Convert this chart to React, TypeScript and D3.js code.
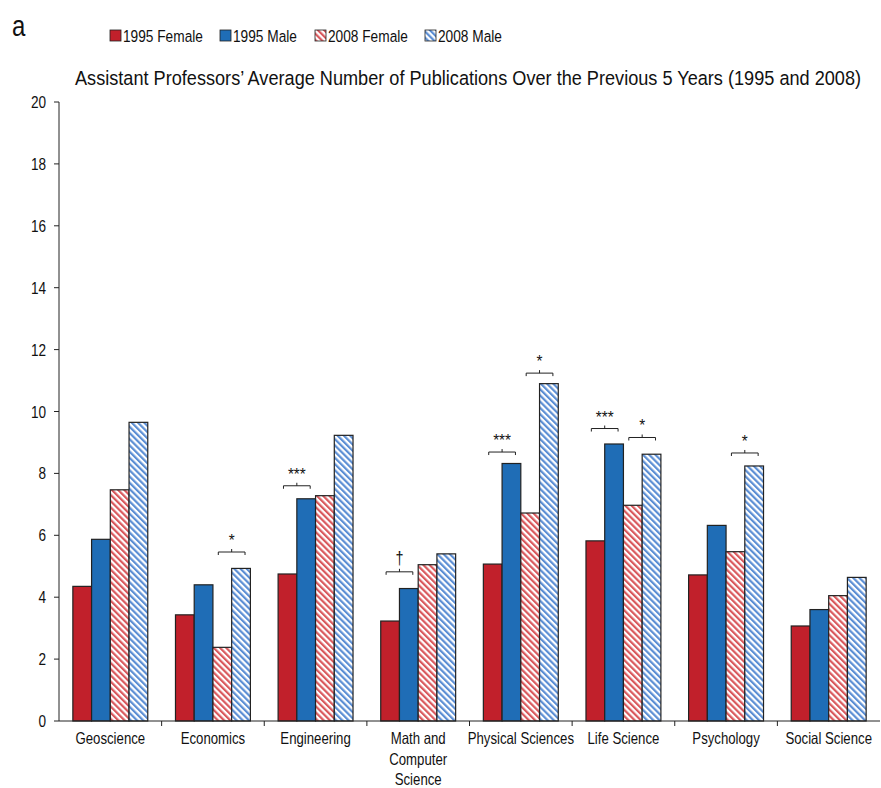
import React from "react";
import * as d3 from "d3";

const categories = [
  "Geoscience",
  "Economics",
  "Engineering",
  "Math and|Computer|Science",
  "Physical Sciences",
  "Life Science",
  "Psychology",
  "Social Science",
];
const seriesNames = ["1995 Female", "1995 Male", "2008 Female", "2008 Male"];
const female1995 = [4.35, 3.43, 4.75, 3.23, 5.07, 5.82, 4.72, 3.07];
const male1995 = [5.87, 4.4, 7.18, 4.28, 8.32, 8.95, 6.32, 3.6];
const female2008 = [7.47, 2.38, 7.28, 5.05, 6.72, 6.97, 5.47, 4.05];
const male2008 = [9.65, 4.93, 9.23, 5.4, 10.9, 8.62, 8.24, 4.64];
const yTicks = [0, 2, 4, 6, 8, 10, 12, 14, 16, 18, 20];

// significance annotations: category index, pair (0 = 1995, 1 = 2008), label, bracket level (data units)
const sigCategory = [1, 2, 3, 4, 4, 5, 5, 6];
const sigPair = [1, 0, 0, 0, 1, 0, 1, 1];
const sigLabel = ["*", "***", "†", "***", "*", "***", "*", "*"];
const sigLevel = [5.46, 7.6, 4.82, 8.69, 11.24, 9.45, 9.16, 8.66];

const FONT = "'Liberation Sans', Arial, sans-serif";
const RED = "#C1202B";
const BLUE = "#1F6DB6";
const RED_H = "#D9585C";
const BLUE_H = "#5B8ED4";

function NText(props: { x: number; y: number; size: number; sx?: number; anchor?: string; children: React.ReactNode }) {
  const { x, y, size, sx = 0.8, anchor = "start", children } = props;
  return (
    <text
      transform={`translate(${x},${y}) scale(${sx},1)`}
      textAnchor={anchor}
      fontFamily={FONT}
      fontSize={size}
      fill="#111"
    >
      {children}
    </text>
  );
}

export default function App() {
  const W = 881;
  const H = 788;
  const left = 59;
  const right = 880;
  const top = 102;
  const bottom = 721;

  const series = [female1995, male1995, female2008, male2008];
  const fills = [RED, BLUE, "url(#hatchRed)", "url(#hatchBlue)"];

  const x = d3.scaleBand<string>().domain(categories).range([left, right]).paddingInner(0.27).paddingOuter(0.135);
  const xs = d3.scaleBand<string>().domain(seriesNames).range([0, x.bandwidth()]);
  const y = d3.scaleLinear().domain([0, 20]).range([bottom, top]);
  const step = x.step();

  return (
    <svg width={W} height={H} style={{ display: "block", position: "absolute", left: 0, top: 0 }}>
      <defs>
        <pattern id="hatchRed" width="4.4" height="4.4" patternUnits="userSpaceOnUse" patternTransform="rotate(-45)">
          <rect width="4.4" height="4.4" fill="#fff" />
          <rect width="2.2" height="4.4" fill={RED_H} />
        </pattern>
        <pattern id="hatchBlue" width="4.4" height="4.4" patternUnits="userSpaceOnUse" patternTransform="rotate(-45)">
          <rect width="4.4" height="4.4" fill="#fff" />
          <rect width="2.2" height="4.4" fill={BLUE_H} />
        </pattern>
      </defs>
      <rect width={W} height={H} fill="#fff" />
      <NText x={12} y={36} size={30}>a</NText>

      {/* legend */}
      {seriesNames.map((s, i) => {
        const lx = [110, 220, 315, 425][i];
        return (
          <g key={s}>
            <rect x={lx} y={30} width={11} height={11} fill={fills[i]} stroke="#222" strokeWidth={0.8} />
            <NText x={lx + 13} y={41.5} size={16.5} sx={0.83}>{s}</NText>
          </g>
        );
      })}

      <NText x={468} y={85} size={20.5} sx={0.885} anchor="middle">
        Assistant Professors’ Average Number of Publications Over the Previous 5 Years (1995 and 2008)
      </NText>

      {/* y axis */}
      <line x1={left} x2={left} y1={top} y2={bottom} stroke="#222" strokeWidth={1} />
      {yTicks.map((t) => (
        <g key={t}>
          <line x1={left - 5} x2={left} y1={y(t)} y2={y(t)} stroke="#222" />
          <NText x={left - 13} y={y(t) + 6} size={17} anchor="end">{t}</NText>
        </g>
      ))}

      {/* bars */}
      {categories.map((c, ci) =>
        series.map((vals, si) => (
          <rect
            key={c + si}
            x={(x(c) as number) + (xs(seriesNames[si]) as number)}
            y={y(vals[ci])}
            width={xs.bandwidth()}
            height={y(0) - y(vals[ci])}
            fill={fills[si]}
            stroke="#222"
            strokeWidth={1.2}
          />
        ))
      )}

      {/* x axis */}
      <line x1={left} x2={right} y1={bottom} y2={bottom} stroke="#222" strokeWidth={1} />
      {d3.range(1, categories.length).map((k) => (
        <line key={k} x1={left + k * step} x2={left + k * step} y1={bottom} y2={bottom + 5} stroke="#222" />
      ))}
      {categories.map((c) => {
        const lines = c.split("|");
        const cx = (x(c) as number) + x.bandwidth() / 2;
        return (
          <g key={c}>
            {lines.map((l, li) => (
              <NText key={li} x={cx} y={744 + li * 20.5} size={16.5} anchor="middle">{l}</NText>
            ))}
          </g>
        );
      })}

      {/* significance brackets */}
      {sigCategory.map((ci, k) => {
        const c = categories[ci];
        const a = seriesNames[sigPair[k] * 2];
        const b = seriesNames[sigPair[k] * 2 + 1];
        const x1 = (x(c) as number) + (xs(a) as number) + xs.bandwidth() / 2 - 4;
        const x2 = (x(c) as number) + (xs(b) as number) + xs.bandwidth() / 2 + 4;
        const yy = y(sigLevel[k]);
        const mx = (x1 + x2) / 2;
        const isDagger = sigLabel[k] === "†";
        return (
          <g key={k}>
            <path d={`M${x1},${yy + 3}V${yy}H${x2}V${yy + 3}M${mx},${yy}V${yy - 3}`} fill="none" stroke="#222" strokeWidth={1} />
            <NText x={mx} y={isDagger ? yy - 8 : yy - 6} size={isDagger ? 18 : 17} sx={isDagger ? 0.8 : 0.9} anchor="middle">
              {sigLabel[k]}
            </NText>
          </g>
        );
      })}
    </svg>
  );
}
